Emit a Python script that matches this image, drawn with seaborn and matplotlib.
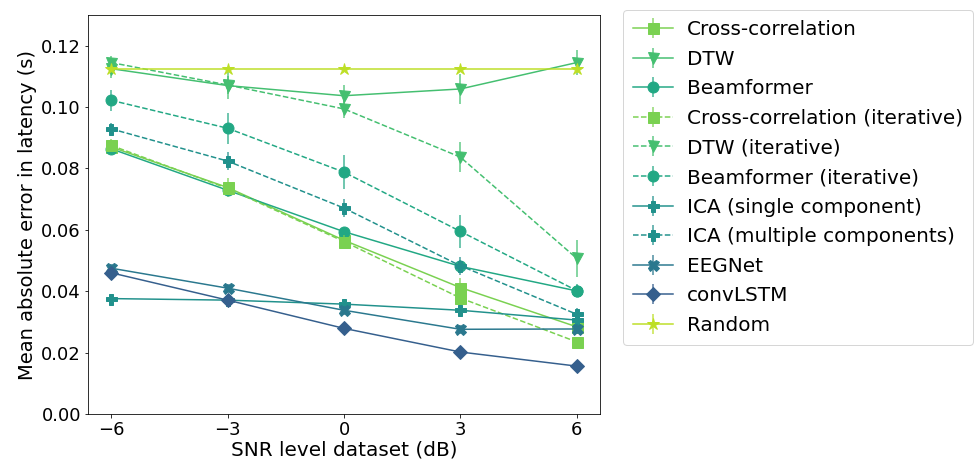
import matplotlib
matplotlib.use("Agg")
import matplotlib.pyplot as plt
import seaborn as sns
import numpy as np
import pandas as pd
from matplotlib.legend_handler import HandlerTuple

plt.rcParams['font.family'] = ['DejaVu Sans']

snr = [-6, -3, 0, 3, 6]

names = ["Cross-correlation", "DTW", "Beamformer",
         "Cross-correlation (iterative)", "DTW (iterative)", "Beamformer (iterative)",
         "ICA (single component)", "ICA (multiple components)", "EEGNet", "convLSTM", "Random"]

cross_corr = [0.0870, 0.0738, 0.0566, 0.0412, 0.0284]
cross_corr_err = [0.0020, 0.0030, 0.0020, 0.0030, 0.0015]
dtw = [0.1125, 0.1070, 0.1037, 0.1059, 0.1145]
dtw_err = [0.0030, 0.0045, 0.0035, 0.0050, 0.0040]
beamformer = [0.0864, 0.0729, 0.0594, 0.0481, 0.0401]
beamformer_err = [0.0015, 0.0015, 0.0015, 0.0020, 0.0020]
cross_corr_it = [0.0875, 0.0735, 0.0562, 0.0378, 0.0235]
cross_corr_it_err = [0.0020, 0.0020, 0.0020, 0.0030, 0.0015]
dtw_it = [0.1145, 0.1072, 0.0994, 0.0837, 0.0507]
dtw_it_err = [0.0020, 0.0030, 0.0030, 0.0050, 0.0060]
beamformer_it = [0.1022, 0.0931, 0.0788, 0.0595, 0.0402]
beamformer_it_err = [0.0035, 0.0050, 0.0055, 0.0055, 0.0020]
ica_single = [0.0376, 0.0371, 0.0358, 0.0338, 0.0306]
ica_single_err = [0.0015, 0.0015, 0.0015, 0.0015, 0.0015]
ica_multi = [0.0929, 0.0824, 0.0671, 0.0483, 0.0325]
ica_multi_err = [0.0020, 0.0030, 0.0030, 0.0030, 0.0020]
eegnet = [0.0475, 0.0410, 0.0338, 0.0276, 0.0277]
eegnet_err = [0.0015, 0.0015, 0.0015, 0.0015, 0.0015]
convlstm = [0.0460, 0.0371, 0.0279, 0.0202, 0.0156]
convlstm_err = [0.0008, 0.0008, 0.0008, 0.0008, 0.0008]
random_ = [0.1124, 0.1124, 0.1124, 0.1124, 0.1124]
random_err = [0.0008, 0.0008, 0.0008, 0.0008, 0.0012]

values = [cross_corr, dtw, beamformer, cross_corr_it, dtw_it, beamformer_it,
          ica_single, ica_multi, eegnet, convlstm, random_]
errors = [cross_corr_err, dtw_err, beamformer_err, cross_corr_it_err, dtw_it_err,
          beamformer_it_err, ica_single_err, ica_multi_err, eegnet_err, convlstm_err, random_err]

colors = ["#7ad151", "#44bf70", "#22a884", "#7ad151", "#44bf70", "#22a884",
          "#21918c", "#21918c", "#2a788e", "#355f8d", "#bddf26"]
markers = ["s", "v", "o", "s", "v", "o", "P", "P", "X", "D", "*"]
styles = ["-", "-", "-", "--", "--", "--", "-", "--", "-", "-", "-"]
msizes = [11, 11, 11, 11, 11, 11, 11, 11, 11, 10, 13]

fig = plt.figure(figsize=(977 / 72, 461 / 72), dpi=72)
ax = fig.add_axes([88 / 977, 1 - 414 / 461, (600 - 88) / 977, (414 - 15) / 461])

handles = []
for name, v, e, c, m, ls, ms in zip(names, values, errors, colors, markers, styles, msizes):
    df = pd.DataFrame({"snr": snr, "mae": v})
    eb = ax.errorbar(df["snr"], df["mae"], yerr=e, fmt="none", ecolor=c,
                     elinewidth=1.5, alpha=0.85, capsize=0)
    sns.lineplot(data=df, x="snr", y="mae", ax=ax, color=c, marker=m,
                 linestyle=ls, linewidth=1.5, markersize=ms,
                 markeredgecolor=c, markeredgewidth=1, legend=False, errorbar=None)
    line = ax.lines[-1]
    handles.append((eb, line))

ax.set_ylim(0, 0.13)
ax.set_xlim(-6.6, 6.6)
ax.set_xticks(snr)
ax.set_yticks([0.00, 0.02, 0.04, 0.06, 0.08, 0.10, 0.12])
ax.yaxis.set_major_formatter(matplotlib.ticker.FormatStrFormatter("%.2f"))
ax.tick_params(labelsize=18)
ax.set_xlabel("SNR level dataset (dB)", fontsize=20, labelpad=2)
ax.set_ylabel("Mean absolute error in latency (s)", fontsize=19.5, labelpad=4)

fig.legend(handles, names, loc="upper left", bbox_to_anchor=(623 / 977, 1 - 10 / 461),
           bbox_transform=fig.transFigure, borderaxespad=0, fontsize=20,
           labelspacing=0.53, borderpad=0.5, handletextpad=0.7,
           handler_map={tuple: HandlerTuple(ndivide=1)})

fig.savefig("out.png", dpi=72)
